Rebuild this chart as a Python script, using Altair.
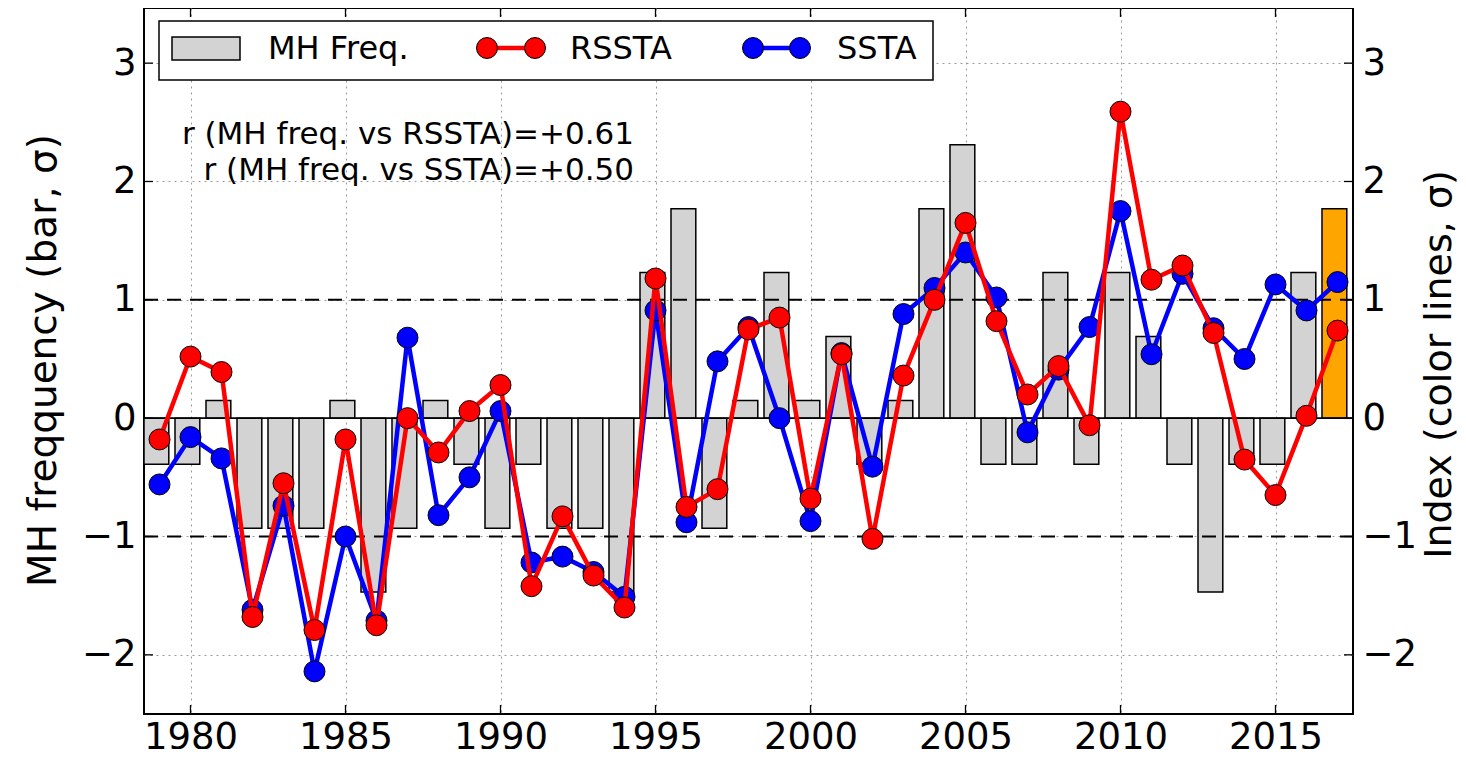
import altair as alt
import pandas as pd

# ---------------- data ----------------
years = list(range(1979, 2018))
mh_freq = [-0.39, -0.39, 0.15, -0.93, -0.93, -0.93, 0.15, -1.47, -0.93, 0.15,
           -0.39, -0.93, -0.39, -0.93, -0.93, -1.47, 1.23, 1.77, -0.93, 0.15,
           1.23, 0.15, 0.69, -0.39, 0.15, 1.77, 2.31, -0.39, -0.39, 1.23,
           -0.39, 1.23, 0.69, -0.39, -1.47, -0.39, -0.39, 1.23, 1.77]
rssta = [-0.18, 0.52, 0.39, -1.68, -0.55, -1.79, -0.18, -1.75, 0.0, -0.29,
         0.06, 0.28, -1.42, -0.83, -1.33, -1.60, 1.18, -0.75, -0.60, 0.75,
         0.85, -0.68, 0.54, -1.02, 0.36, 1.00, 1.65, 0.82, 0.20, 0.44,
         -0.06, 2.59, 1.17, 1.29, 0.72, -0.35, -0.65, 0.02, 0.74]
ssta = [-0.56, -0.16, -0.34, -1.62, -0.74, -2.14, -1.00, -1.71, 0.68, -0.82,
        -0.50, 0.06, -1.22, -1.17, -1.30, -1.51, 0.91, -0.88, 0.48, 0.77,
        0.0, -0.87, 0.55, -0.41, 0.88, 1.10, 1.40, 1.02, -0.12, 0.41,
        0.77, 1.75, 0.54, 1.22, 0.76, 0.50, 1.13, 0.91, 1.15]
x_ticks = [1980, 1985, 1990, 1995, 2000, 2005, 2010, 2015]
y_ticks = [-2, -1, 0, 1, 2, 3]
threshold_lines = [-1, 1]
highlight_year = 2017
legend_labels = ["MH Freq.", "RSSTA", "SSTA"]
annotation_lines = ["r (MH freq. vs RSSTA)=+0.61", "r (MH freq. vs SSTA)=+0.50"]

# ---------------- layout / style ----------------
W, H = 1209, 706
FONT = "DejaVu Sans"
RED, BLUE = "#ff0000", "#0000ff"

xs = alt.Scale(domain=[1978.5, 2017.5], nice=False, zero=False)
ys = alt.Scale(domain=[-2.5, 3.466], nice=False, zero=False)

df = pd.DataFrame({"year": years, "mh": mh_freq, "rssta": rssta, "ssta": ssta})
one = pd.DataFrame({"k": [0]})

x_axis = alt.Axis(values=x_ticks, format="d", grid=True, gridDash=[2, 4],
                  gridColor="#9a9a9a", gridWidth=1, ticks=False, domain=False,
                  labelFont=FONT, labelFontSize=37, labelColor="black",
                  labelPadding=5, title=None, labelFlush=False)
y_axis_left = alt.Axis(values=y_ticks, orient="left", grid=True, gridDash=[2, 4],
                       gridColor="#9a9a9a", gridWidth=1, ticks=False, domain=False,
                       labelFont=FONT, labelFontSize=37, labelColor="black",
                       labelPadding=8, title="MH freqquency (bar, σ)",
                       titleFont=FONT, titleFontSize=39, titleFontWeight="normal",
                       titleColor="black", titleAngle=270, titleX=-101, titleY=352,
                       titleAlign="center", titleBaseline="middle")
y_axis_right = alt.Axis(values=y_ticks, orient="right", grid=False, ticks=False,
                        domain=False, labelFont=FONT, labelFontSize=37,
                        labelColor="black", labelPadding=9,
                        title="Index (color lines, σ)", titleFont=FONT,
                        titleFontSize=38, titleFontWeight="normal", titleColor="black",
                        titleAngle=270, titleX=86, titleY=356, titleAlign="center",
                        titleBaseline="middle")

bars = alt.Chart(df).transform_calculate(
    x0="datum.year - 0.5", x1="datum.year + 0.3", zero="0"
).mark_rect(stroke="black", strokeWidth=1.5).encode(
    x=alt.X("x0:Q", scale=xs, axis=x_axis),
    x2="x1:Q",
    y=alt.Y("mh:Q", scale=ys, axis=y_axis_left),
    y2="zero:Q",
    color=alt.condition(f"datum.year == {highlight_year}",
                        alt.value("#ffa500"), alt.value("#d3d3d3")),
)

thresh = alt.Chart(pd.DataFrame({"v": threshold_lines})).mark_rule(
    color="black", strokeWidth=2, strokeDash=[14, 9]
).encode(
    y=alt.Y("v:Q", scale=ys, axis=y_axis_right),
    x=alt.value(0), x2=alt.value(W),
)

zero_line = alt.Chart(pd.DataFrame({"v": [0]})).mark_rule(
    color="black", strokeWidth=1.6
).encode(y=alt.Y("v:Q", scale=ys, axis=None), x=alt.value(0), x2=alt.value(W))


def series(field, color):
    enc = dict(x=alt.X("year:Q", scale=xs, axis=None),
               y=alt.Y(f"{field}:Q", scale=ys, axis=None))
    line = alt.Chart(df).mark_line(color=color, strokeWidth=4.5).encode(**enc)
    pts = alt.Chart(df).mark_point(filled=True, fill=color, stroke="black",
                                   strokeWidth=1, size=440, opacity=1,
                                   shape="circle").encode(**enc)
    return line, pts


blue_line, blue_pts = series("ssta", BLUE)
red_line, red_pts = series("rssta", RED)

# ---------------- legend (manual, matplotlib style) ----------------
leg_box = alt.Chart(one).mark_rect(fill="white", stroke="black", strokeWidth=1.5).encode(
    x=alt.value(15), x2=alt.value(789), y=alt.value(13), y2=alt.value(72))
leg_swatch = alt.Chart(one).mark_rect(fill="#d3d3d3", stroke="black", strokeWidth=1.5).encode(
    x=alt.value(28), x2=alt.value(96), y=alt.value(29), y2=alt.value(52))


def leg_text(label, xpos):
    return alt.Chart(one).mark_text(text=label, font=FONT, fontSize=32, align="left",
                                    baseline="middle", color="black").encode(
        x=alt.value(xpos), y=alt.value(41))


def leg_line(color, xa, xb):
    ln = alt.Chart(one).mark_rule(color=color, strokeWidth=4.5).encode(
        x=alt.value(xa), x2=alt.value(xb), y=alt.value(40))
    p1 = alt.Chart(one).mark_point(filled=True, fill=color, stroke="black", strokeWidth=1,
                                   size=440, opacity=1).encode(x=alt.value(xa), y=alt.value(40))
    p2 = alt.Chart(one).mark_point(filled=True, fill=color, stroke="black", strokeWidth=1,
                                   size=440, opacity=1).encode(x=alt.value(xb), y=alt.value(40))
    return ln + p1 + p2


legend = (leg_box + leg_swatch + leg_text(legend_labels[0], 124)
          + leg_line(RED, 343, 391) + leg_text(legend_labels[1], 426)
          + leg_line(BLUE, 609, 656) + leg_text(legend_labels[2], 693))

ann = alt.layer(*[
    alt.Chart(one).mark_text(text=t, font=FONT, fontSize=31, align="right",
                             baseline="middle", color="black").encode(
        x=alt.value(490), y=alt.value(yy))
    for t, yy in zip(annotation_lines, [127, 163])
])

# ---------------- inward ticks ----------------
yt = pd.DataFrame({"v": y_ticks})
xt = pd.DataFrame({"v": x_ticks})
tick_l = alt.Chart(yt).mark_rule(color="black", strokeWidth=1.3).encode(
    y=alt.Y("v:Q", scale=ys, axis=None), x=alt.value(0), x2=alt.value(9))
tick_r = alt.Chart(yt).mark_rule(color="black", strokeWidth=1.3).encode(
    y=alt.Y("v:Q", scale=ys, axis=None), x=alt.value(W - 9), x2=alt.value(W))
tick_b = alt.Chart(xt).mark_rule(color="black", strokeWidth=1.3).encode(
    x=alt.X("v:Q", scale=xs, axis=None), y=alt.value(H - 9), y2=alt.value(H))
tick_t = alt.Chart(xt).mark_rule(color="black", strokeWidth=1.3).encode(
    x=alt.X("v:Q", scale=xs, axis=None), y=alt.value(0), y2=alt.value(9))

chart = alt.layer(
    bars, thresh, zero_line, blue_line, blue_pts, red_line, red_pts,
    legend, ann, tick_l, tick_r, tick_b, tick_t
).resolve_axis(y="independent", x="independent").properties(
    width=W, height=H,
    autosize=alt.AutoSizeParams(type="none"),
    padding={"left": 136, "top": 0, "right": 105, "bottom": 35},
).configure_view(stroke="black", strokeWidth=2)

chart.save("out.html", embed_options={"renderer": "svg", "actions": False})
